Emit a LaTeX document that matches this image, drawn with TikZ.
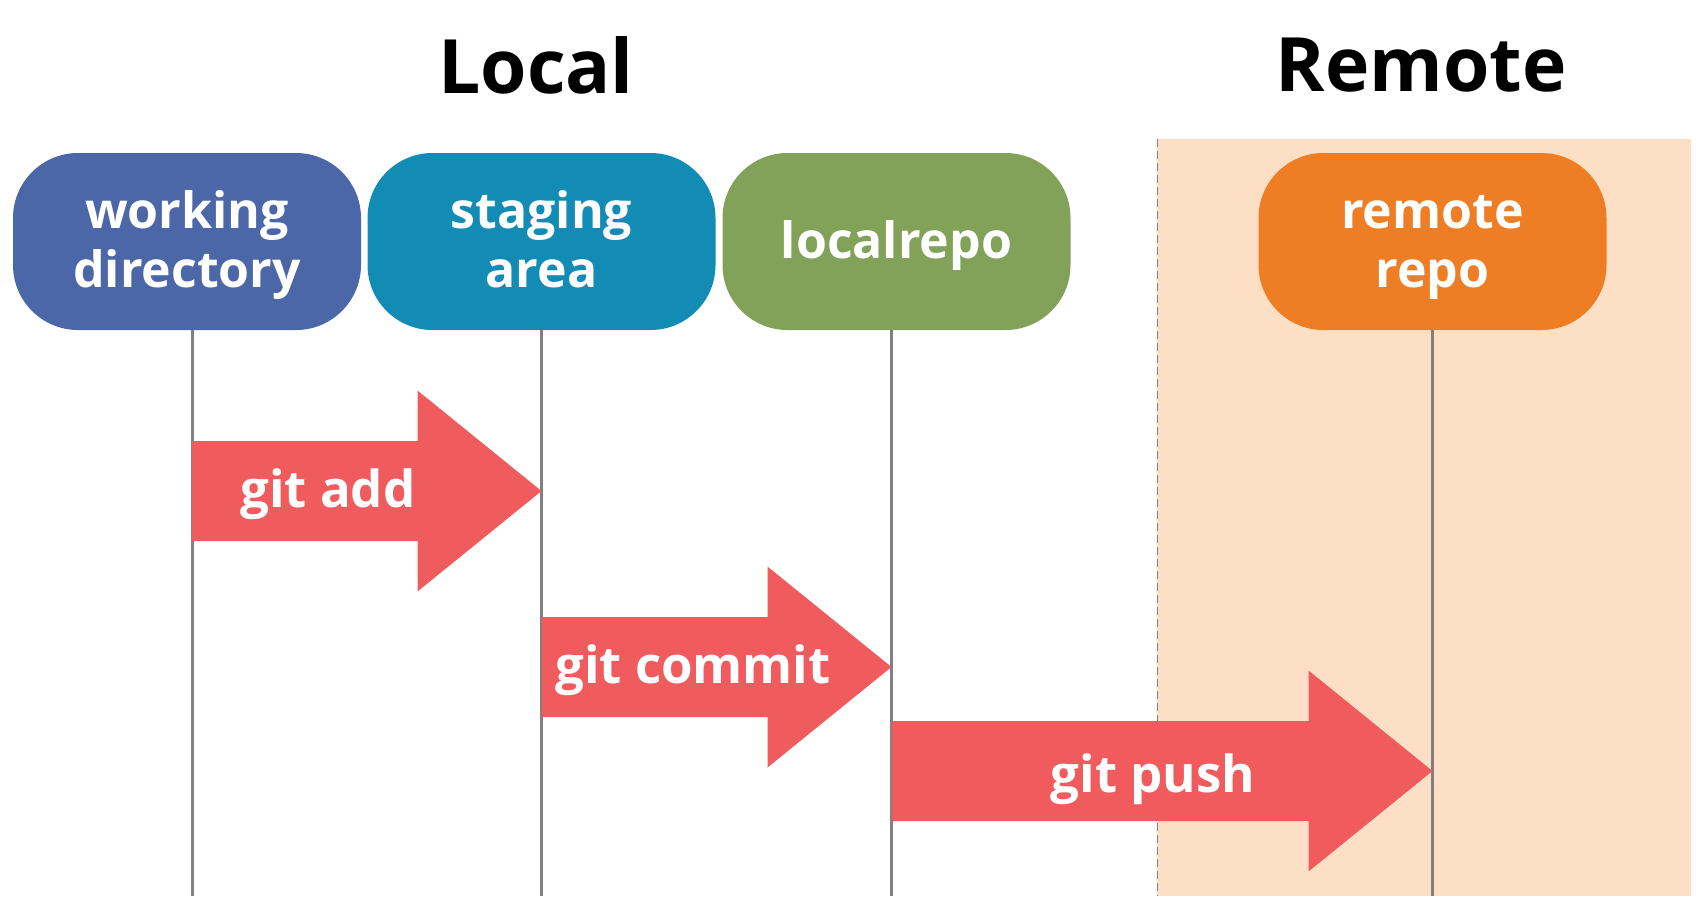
\documentclass[tikz,border=0pt]{standalone}
\usepackage{fontspec}
\setmainfont{Open Sans}
\usetikzlibrary{calc}

\definecolor{wdblue}{HTML}{4B67A8}
\definecolor{stageteal}{HTML}{138CB5}
\definecolor{localgreen}{HTML}{82A25A}
\definecolor{remoteorange}{HTML}{EF7D24}
\definecolor{remotebg}{HTML}{FCDFC4}
\definecolor{cmdred}{HTML}{F05B5E}
\definecolor{lifegray}{HTML}{7F7F84}

% struts so every box label sits at the same baselines
\newcommand{\hiline}{\rule{0pt}{23.5pt}}
\newcommand{\loline}{\rule[-7pt]{0pt}{7pt}}

% block arrow from one lifeline to the next, at a given row
\newcommand{\cmdarrow}[3]{%
  \fill[cmdred] ($(#1 |- #3)+(0,-50)$) -- ($(#2 |- #3)+(-124,-50)$)
    -- ++(0,-50.5) -- (#2 |- #3) -- ++(-124,100.5) -- ++(0,-50.5)
    -- ($(#1 |- #3)+(0,50)$) -- cycle;}

\begin{document}
\begin{tikzpicture}[x=0.5pt, y=-0.5pt,
    repobox/.style={rectangle, rounded corners=32.5pt, minimum width=174pt,
      minimum height=88.5pt, inner sep=0pt, text=white, align=center,
      font=\fontsize{25}{29.5}\selectfont\bfseries},
    cmdlabel/.style={text=white, anchor=base, font=\fontsize{25.5}{30}\selectfont\bfseries},
    lifeline/.style={lifegray, line width=1.5pt},
    title/.style={anchor=base, font=\fontsize{37.5}{45}\selectfont\bfseries}]
        \useasboundingbox (0,0) rectangle (1698,896);

        % remote side
        \fill[remotebg] (1157,139) rectangle (1691,896);
        \draw[lifegray, line width=0.5pt, dash pattern=on 4pt off 2pt] (1157,139) -- (1157,896);

        \node[title] (localtitle) at (536,93) {Local};
        \node[title] (remotetitle) at (1421,91) {Remote};

        \node[repobox, fill=wdblue] (wd) at (187,241.5) {\hiline working\\directory\loline};
        \node[repobox, fill=stageteal] (stage) at (541.5,241.5) {\hiline staging\\area\loline};
        \node[repobox, fill=localgreen] (lrepo) at (896.5,241.5) {\hiline localrepo\loline};
        \node[repobox, fill=remoteorange] (rrepo) at (1432.5,241.5) {\hiline remote\\repo\loline};

        \coordinate (bottom) at (0,896);
        \coordinate (addrow) at (0,491);
        \coordinate (commitrow) at (0,667);
        \coordinate (pushrow) at (0,771);

        % lifelines
        \coordinate (wdlife) at ($(wd.south)+(5,0)$);
        \coordinate (stagelife) at (stage.south);
        \coordinate (lrepolife) at ($(lrepo.south)+(-5,0)$);
        \coordinate (rrepolife) at (rrepo.south);
        \draw[lifeline] (wdlife) -- (wdlife |- bottom);
        \draw[lifeline] (stagelife) -- (stagelife |- bottom);
        \draw[lifeline] (lrepolife) -- (lrepolife |- bottom);
        \draw[lifeline] (rrepolife) -- (rrepolife |- bottom);

        \cmdarrow{wdlife}{stagelife}{addrow}
        \cmdarrow{stagelife}{lrepolife}{commitrow}
        \cmdarrow{lrepolife}{rrepolife}{pushrow}

        \node[cmdlabel] (add) at (328,507.5) {git add};
        \node[cmdlabel] (commit) at (693,683) {git commit};
        \node[cmdlabel] (push) at (1153,792) {git push};
\end{tikzpicture}
\end{document}
